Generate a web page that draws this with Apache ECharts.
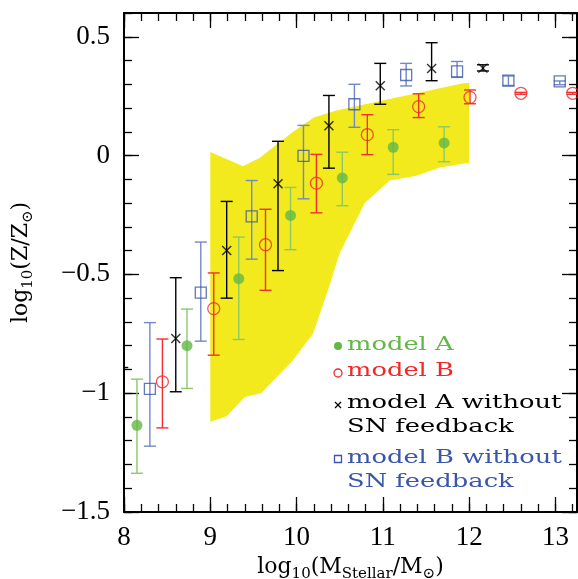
<!DOCTYPE html>
<html lang="en">
<head>
    <meta charset="UTF-8">
    <title>mass-metallicity</title>
    <script src="https://cdn.jsdelivr.net/npm/echarts@6/dist/echarts.min.js"></script>
    <style>
        html, body { margin: 0; padding: 0; background: #fff; }
        #chart { width: 578px; height: 579px; }
    </style>
</head>
<body>
<div id="chart"></div>
<script type="text/javascript">
	// model A
	var massA = [8.15, 8.73, 9.33, 9.93, 10.53, 11.12, 11.71];
	var zA = [-1.135, -0.80, -0.518, -0.252, -0.094, 0.035, 0.053];
	var hiA = [-0.941, -0.646, -0.343, -0.134, 0.014, 0.109, 0.121];
	var loA = [-1.337, -0.98, -0.774, -0.396, -0.211, -0.079, -0.026];
	// model B
	var massB = [8.445, 9.04, 9.64, 10.23, 10.82, 11.415, 12.01, 12.6, 13.2];
	var zB = [-0.952, -0.644, -0.375, -0.116, 0.088, 0.206, 0.245, 0.262, 0.262];
	var hiB = [-0.772, -0.494, -0.226, 0.005, 0.172, 0.26, 0.276, 0.266, 0.266];
	var loB = [-1.146, -0.84, -0.567, -0.241, 0.004, 0.16, 0.218, 0.258, 0.258];
	// model A without SN feedback
	var massAn = [7.98, 8.6, 9.19, 9.785, 10.375, 10.97, 11.565, 12.16];
	var zAn = [-1.209, -0.77, -0.399, -0.119, 0.126, 0.294, 0.366, 0.368];
	var hiAn = [-0.892, -0.514, -0.193, 0.06, 0.253, 0.388, 0.475, 0.382];
	var loAn = [-1.6, -0.994, -0.6, -0.484, -0.053, 0.216, 0.315, 0.356];
	// model B without SN feedback
	var massBn = [8.30, 8.89, 9.48, 10.08, 10.67, 11.27, 11.86, 12.455, 13.05];
	var zBn = [-0.982, -0.577, -0.256, -0.001, 0.216, 0.339, 0.354, 0.315, 0.312];
	var hiBn = [-0.703, -0.364, -0.105, 0.127, 0.30, 0.388, 0.396, 0.335, 0.314];
	var loBn = [-1.223, -0.781, -0.436, -0.182, 0.119, 0.293, 0.329, 0.295, 0.298];
	// yellow band (upper edge left->right, lower edge right->left)
	var bandUpper = [[9.0, 0.015], [9.38, -0.045], [9.57, -0.01], [9.96, 0.10], [10.2, 0.16], [10.46, 0.19], [11.93, 0.304], [12.0, 0.305]];
	var bandLower = [[12.0, -0.03], [11.66, -0.05], [11.39, -0.085], [11.08, -0.105], [10.79, -0.2], [10.5, -0.41], [10.36, -0.57], [10.19, -0.75], [9.96, -0.86], [9.59, -1.0], [9.4, -1.016], [9.19, -1.097], [9.0, -1.12]];
	// legend
	var legendNames = ['model A', 'model B', 'model A without\nSN feedback', 'model B without\nSN feedback'];

	var SERIF = '"DejaVu Serif", serif';
	var chart = echarts.init(document.getElementById('chart'));

	function pts(xs, ys) {
		var out = [];
		for (var i = 0; i < xs.length; i++) out.push([xs[i], ys[i]]);
		return out;
	}
	function bars(xs, lo, hi) {
		var out = [];
		for (var i = 0; i < xs.length; i++) out.push([xs[i], lo[i], hi[i]]);
		return out;
	}
	function errSeries(xs, lo, hi, color) {
		return {
			type: 'custom', xAxisIndex: 0, yAxisIndex: 0, clip: true, z: 3,
			data: bars(xs, lo, hi),
			renderItem: function (params, api) {
				var a = api.coord([api.value(0), api.value(1)]);
				var b = api.coord([api.value(0), api.value(2)]);
				var w = 6;
				var st = {stroke: color, lineWidth: 1.4};
				return {
					type: 'group', children: [
						{type: 'line', shape: {x1: a[0], y1: a[1], x2: b[0], y2: b[1]}, style: st},
						{type: 'line', shape: {x1: a[0] - w, y1: a[1], x2: a[0] + w, y2: a[1]}, style: st},
						{type: 'line', shape: {x1: b[0] - w, y1: b[1], x2: b[0] + w, y2: b[1]}, style: st}
					]
				};
			}
		};
	}

	var crossPath = 'path://M0,0L10,10M10,0L0,10';
	var LABEL_FONT = 'Liberation Serif';

	function axisX(grid, pos, interval, len, labels) {
		return {
			type: 'value', gridIndex: grid, position: pos, min: 8, max: 13.25, interval: interval,
			axisLine: {show: grid === 0, onZero: false, lineStyle: {color: '#000', width: 2}},
			axisTick: {inside: true, length: len, lineStyle: {color: '#000', width: 1.3}},
			splitLine: {show: false},
			axisLabel: labels ? {
				show: true, margin: 12, color: '#000', fontFamily: LABEL_FONT, fontSize: 27,
				showMaxLabel: false
			} : {show: false}
		};
	}
	function axisY(grid, pos, interval, len, labels) {
		return {
			type: 'value', gridIndex: grid, position: pos, min: -1.5, max: 0.6, interval: interval,
			axisLine: {show: grid === 0, onZero: false, lineStyle: {color: '#000', width: 2}},
			axisTick: {inside: true, length: len, lineStyle: {color: '#000', width: 1.3}},
			splitLine: {show: false},
			axisLabel: labels ? {
				show: true, margin: 14, color: '#000', fontFamily: LABEL_FONT, fontSize: 27,
				showMaxLabel: false,
				formatter: function (v) { return String(v).replace('-', '\u2212'); }
			} : {show: false}
		};
	}

	var xAxes = [axisX(0, 'bottom', 1, 15, true), axisX(0, 'top', 1, 15, false),
		axisX(1, 'bottom', 0.2, 8, false), axisX(1, 'top', 0.2, 8, false)];
	xAxes[0].name = '{n|log}{s|10}{n|(M}{s|Stellar}{n|/M}{s|\u2299}{n|)}';
	xAxes[0].nameLocation = 'middle';
	xAxes[0].nameGap = 41;
	xAxes[0].nameTextStyle = {
		rich: {
			n: {fontFamily: SERIF, fontSize: 22, color: '#000'},
			s: {fontFamily: SERIF, fontSize: 15, color: '#000', padding: [14, 0, 0, 0]}
		}
	};
	var yAxes = [axisY(0, 'left', 0.5, 15, true), axisY(0, 'right', 0.5, 15, false),
		axisY(1, 'left', 0.1, 8, false), axisY(1, 'right', 0.1, 8, false)];
	yAxes[0].name = '{n|log}{s|10}{n|(Z/Z}{s|\u2299}{n|)}';
	yAxes[0].nameLocation = 'middle';
	yAxes[0].nameGap = 88;
	yAxes[0].nameTextStyle = {
		rich: {
			n: {fontFamily: SERIF, fontSize: 22, color: '#000'},
			s: {fontFamily: SERIF, fontSize: 15, color: '#000', padding: [14, 0, 0, 0]}
		}
	};

	var legendY = [345, 371, 403, 458];
	var legendColor = ['#62b846', '#f02828', '#000', '#3a56a8'];
	var graphics = [];
	for (var k = 0; k < legendNames.length; k++) {
		graphics.push({
			type: 'text', x: 347, y: legendY[k] - 12, scaleX: 1.43, z: 10,
			style: {text: legendNames[k], fill: legendColor[k], font: '18px "DejaVu Serif", serif', lineHeight: 24, textVerticalAlign: 'top'}
		});
	}
	graphics.push({type: 'circle', shape: {cx: 338, cy: 346, r: 4}, style: {fill: '#62b846'}});
	graphics.push({type: 'circle', shape: {cx: 338, cy: 373, r: 4}, style: {fill: 'none', stroke: '#f02828', lineWidth: 1.3}});
	graphics.push({type: 'polyline', shape: {points: [[335, 402], [341, 408]]}, style: {stroke: '#000', lineWidth: 1.3}});
	graphics.push({type: 'polyline', shape: {points: [[335, 408], [341, 402]]}, style: {stroke: '#000', lineWidth: 1.3}});
	graphics.push({type: 'rect', shape: {x: 334.5, y: 455.5, width: 7, height: 7}, style: {fill: 'none', stroke: '#3a56a8', lineWidth: 1.3}});

	var option = {
		animation: false,
		backgroundColor: '#fff',
		grid: [
			{left: 124, top: 13, width: 453, height: 499, outerBoundsMode: 'none'},
			{left: 124, top: 13, width: 453, height: 499, outerBoundsMode: 'none'}
		],
		xAxis: xAxes,
		yAxis: yAxes,
		graphic: graphics,
		series: [
			{
				type: 'custom', xAxisIndex: 0, yAxisIndex: 0, clip: true, z: 1,
				data: [0],
				renderItem: function (params, api) {
					var poly = [];
					var all = bandUpper.concat(bandLower);
					for (var i = 0; i < all.length; i++) poly.push(api.coord(all[i]));
					return {type: 'polygon', shape: {points: poly}, style: {fill: '#f2ea1c'}};
				}
			},
			errSeries(massA, loA, hiA, '#8cc86a'),
			errSeries(massB, loB, hiB, '#f03030'),
			errSeries(massAn, loAn, hiAn, '#000'),
			errSeries(massBn, loBn, hiBn, '#7088c8'),
			{
				type: 'scatter', name: 'model A', xAxisIndex: 0, yAxisIndex: 0, z: 4, clip: true,
				symbol: 'circle', symbolSize: 11, data: pts(massA, zA),
				itemStyle: {color: '#62b846'}
			},
			{
				type: 'scatter', name: 'model B', xAxisIndex: 0, yAxisIndex: 0, z: 4, clip: true,
				symbol: 'circle', symbolSize: 12, data: pts(massB, zB),
				itemStyle: {color: 'none', borderColor: '#f02828', borderWidth: 1.3}
			},
			{
				type: 'scatter', name: 'model A without SN feedback', xAxisIndex: 0, yAxisIndex: 0, z: 4, clip: true,
				symbol: crossPath, symbolSize: 9, data: pts(massAn, zAn),
				itemStyle: {color: 'none', borderColor: '#000', borderWidth: 1.4}
			},
			{
				type: 'scatter', name: 'model B without SN feedback', xAxisIndex: 0, yAxisIndex: 0, z: 4, clip: true,
				symbol: 'rect', symbolSize: 11, data: pts(massBn, zBn),
				itemStyle: {color: 'none', borderColor: '#3a56a8', borderWidth: 1.3}
			}
		]
	};
	chart.setOption(option);
</script>
</body>
</html>
